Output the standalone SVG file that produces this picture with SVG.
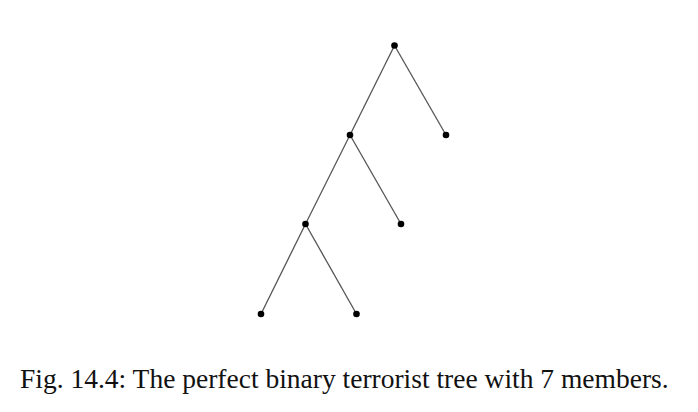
<svg xmlns="http://www.w3.org/2000/svg" width="698" height="412" viewBox="0 0 698 412">
<style>
.edge{stroke:#555;stroke-width:1.3;fill:none}
.node{fill:#000}
.cap{font-family:"Liberation Serif","Times New Roman",serif;font-size:27.5px;fill:#111}
</style>
<rect width="698" height="412" fill="#fff"/>
<g id="connectors">
<line class="edge" x1="394.5" y1="45.5" x2="446" y2="135"/>
<line class="edge" x1="394.5" y1="45.5" x2="350" y2="135"/>
<line class="edge" x1="350" y1="135" x2="401" y2="224"/>
<line class="edge" x1="350" y1="135" x2="305.5" y2="224"/>
<line class="edge" x1="305.5" y1="224" x2="261" y2="314"/>
<line class="edge" x1="305.5" y1="224" x2="356.5" y2="314"/>
</g>
<g id="n1"><circle class="node" cx="394.5" cy="45.5" r="3.3"/></g>
<g id="n2"><circle class="node" cx="446" cy="135" r="3.3"/></g>
<g id="n3"><circle class="node" cx="350" cy="135" r="3.3"/></g>
<g id="n4"><circle class="node" cx="401" cy="224" r="3.3"/></g>
<g id="n5"><circle class="node" cx="305.5" cy="224" r="3.3"/></g>
<g id="n6"><circle class="node" cx="261" cy="314" r="3.3"/></g>
<g id="n7"><circle class="node" cx="356.5" cy="314" r="3.3"/></g>
<text class="cap" x="20" y="388">Fig. 14.4: The perfect binary terrorist tree with 7 members.</text>
</svg>
